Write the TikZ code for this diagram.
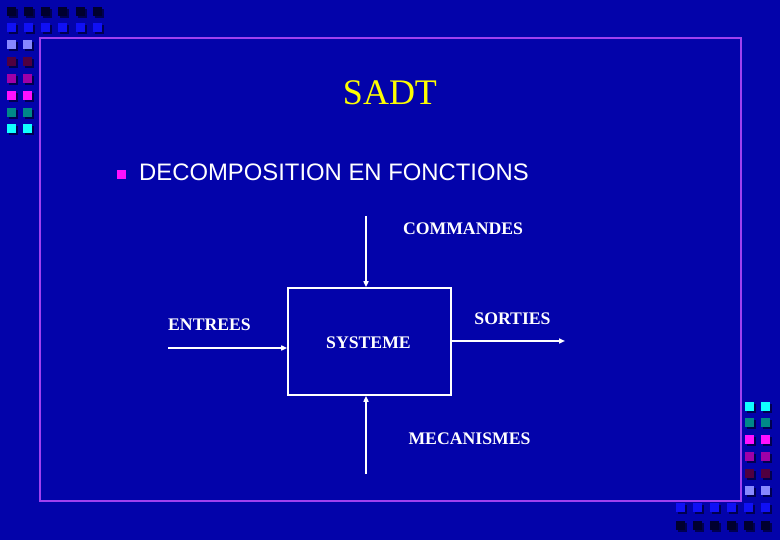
\documentclass[tikz,border=0pt]{standalone}
\usepackage{fontspec}
\setmainfont{Liberation Serif}
\setsansfont{Liberation Sans}
\usetikzlibrary{arrows.meta}
\definecolor{bg}{HTML}{0303AA}
\definecolor{frame}{HTML}{A040F0}
\definecolor{sqnavy}{HTML}{00002E}
\definecolor{sqblue}{HTML}{1010F5}
\definecolor{sqlav}{HTML}{8888FF}
\definecolor{sqmaroon}{HTML}{500040}
\definecolor{sqpurple}{HTML}{A000A8}
\definecolor{sqmagenta}{HTML}{FF10FF}
\definecolor{sqteal}{HTML}{008888}
\definecolor{sqcyan}{HTML}{10FFFF}
\definecolor{sqshadow}{HTML}{000050}
\definecolor{titleyellow}{HTML}{FFFF00}
\newcommand{\sq}[3]{%
  \fill[sqshadow] (#1+2,#2+2) rectangle ++(9,9);
  \fill[#3] (#1,#2) rectangle ++(9,9);}
\tikzset{
  lbl/.style={text=white, font=\fontsize{17.7}{20}\selectfont\bfseries, inner sep=0pt},
  wire/.style={draw=white, line width=1.6pt, -{Triangle[length=6pt,width=5pt]}},
  sysbox/.style={draw=white, line width=1.6pt, minimum width=163pt, minimum height=107pt, inner sep=0pt}
}
\begin{document}
\begin{tikzpicture}[x=1pt,y=-1pt]
\fill[bg] (0,0) rectangle (780,540);
\useasboundingbox (0,0) rectangle (780,540);
% top-left decoration
\foreach \x in {7,24,41,58,76,93} {\sq{\x}{7}{sqnavy} \sq{\x}{23}{sqblue}}
\foreach \x in {7,23} {
  \sq{\x}{40}{sqlav} \sq{\x}{57}{sqmaroon} \sq{\x}{74}{sqpurple}
  \sq{\x}{91}{sqmagenta} \sq{\x}{108}{sqteal} \sq{\x}{124}{sqcyan}}
% bottom-right decoration
\foreach \x in {745,761} {
  \sq{\x}{402}{sqcyan} \sq{\x}{418}{sqteal} \sq{\x}{435}{sqmagenta}
  \sq{\x}{452}{sqpurple} \sq{\x}{469}{sqmaroon} \sq{\x}{486}{sqlav}}
\foreach \x in {676,693,710,727,744,761} {\sq{\x}{503}{sqblue} \sq{\x}{521}{sqnavy}}
% frame
\draw[frame, line width=2.2pt] (40,38) rectangle (741,501);
% title
\node[text=titleyellow, font=\fontsize{36}{40}\selectfont, inner sep=0pt] (title) at (390,93) {SADT};
% bullet
\fill[sqmagenta] (117,170) rectangle (126,179);
\node[anchor=west, text=white, font=\sffamily\fontsize{23.85}{26}\selectfont, inner sep=0pt] (head) at (139,172.5) {DECOMPOSITION EN FONCTIONS};
% diagram
\node[sysbox] (sys) at (369.5,341.5) {};
\node[lbl] (systxt) at (368.5,343) {SYSTEME};
\node[lbl] (cmdl) at (463,229) {COMMANDES};
\node[lbl] (entl) at (209.5,325) {ENTREES};
\node[lbl] (sorl) at (512.5,319) {SORTIES};
\node[lbl] (mecl) at (469.5,439) {MECANISMES};
\coordinate (cmd) at (366,216);
\coordinate (mec) at (366,474);
\coordinate (ent) at (168,348);
\coordinate (sor) at (565,341);
\draw[wire] (cmd) -- (cmd |- sys.north);
\draw[wire] (mec) -- (mec |- sys.south);
\draw[wire] (ent) -- (ent -| sys.west);
\draw[wire] (sor -| sys.east) -- (sor);
\end{tikzpicture}
\end{document}
